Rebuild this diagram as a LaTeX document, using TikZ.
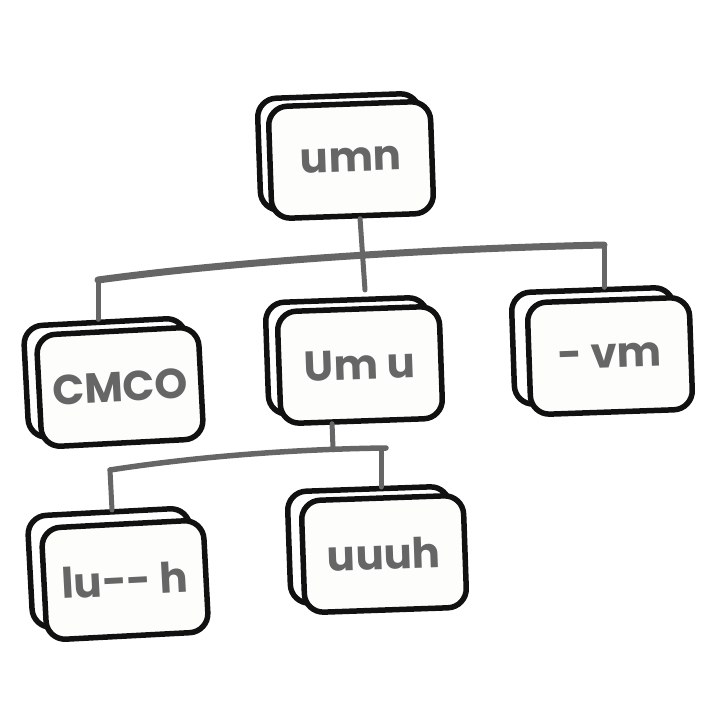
\documentclass[tikz,border=0pt]{standalone}
\usepackage{fontspec}
\newfontfamily\hand{Poppins}
\definecolor{ink}{HTML}{111111}
\definecolor{pen}{HTML}{666666}
\definecolor{paper}{HTML}{FDFDFB}
\begin{document}
\begin{tikzpicture}[x=1pt,y=-1pt,
  cardback/.style={draw=ink, line width=5.5pt, rounded corners=19pt, fill=white,
    minimum width=162pt, minimum height=112pt, inner sep=0pt},
  card/.style={cardback, fill=paper, text=pen, font=\hand\bfseries\fontsize{42}{42}\selectfont},
  bar/.style={draw=pen, line width=7pt, line cap=round, line join=round},
  drop/.style={draw=pen, line width=5pt, line cap=round}]
\fill[white] (0,0) rectangle (709,709);
\useasboundingbox (0,0) rectangle (709,709);

% top
\node[cardback, rotate=2] (topb) at (340,152) {};
\node[card, rotate=2] (top) at (351,160) {umn};
% level 2
\node[cardback, rotate=3] (cmcob) at (107,378) {};
\node[card, rotate=3] (cmco) at (120,387) {CMCO};
\node[cardback, rotate=2] (midb) at (348,356) {};
\node[card, rotate=2] (mid) at (360,365) {Um u};
\node[cardback, rotate=2] (rightb) at (594,346) {};
\node[card, rotate=2] (right) at (610,356) {- vm};
% level 3
\node[cardback, rotate=3] (blb) at (111,568) {};
\node[card, rotate=3] (bl) at (125,580) {lu-- h};
\node[cardback, rotate=2] (bmb) at (370,545) {};
\node[card, rotate=2] (bm) at (384,554) {uuuh};

% connectors level 1
\coordinate (j1l) at (98,280);
\coordinate (j1r) at (604,245);
\coordinate (t1) at (365,290);
\draw[bar] (j1l) .. controls (230,262) and (420,249) .. (j1r);
\draw[drop] ([xshift=7pt]top.south) -- (t1);
\draw[drop] (j1l) -- (j1l |- cmcob.north);
\draw[drop] (j1r) -- (j1r |- rightb.north);

% connectors level 2
\coordinate (j2l) at (110,470);
\coordinate (j2r) at (386,448);
\draw[drop] ([xshift=-30pt]mid.south) -- ++(1,26);
\draw[bar, line width=5.5pt] (j2l) .. controls (200,456) and (300,449) .. (j2r);
\draw[drop] (j2l) -- ++(2,40);
\draw[drop] (381,449) -- ++(0,38);
\end{tikzpicture}
\end{document}
